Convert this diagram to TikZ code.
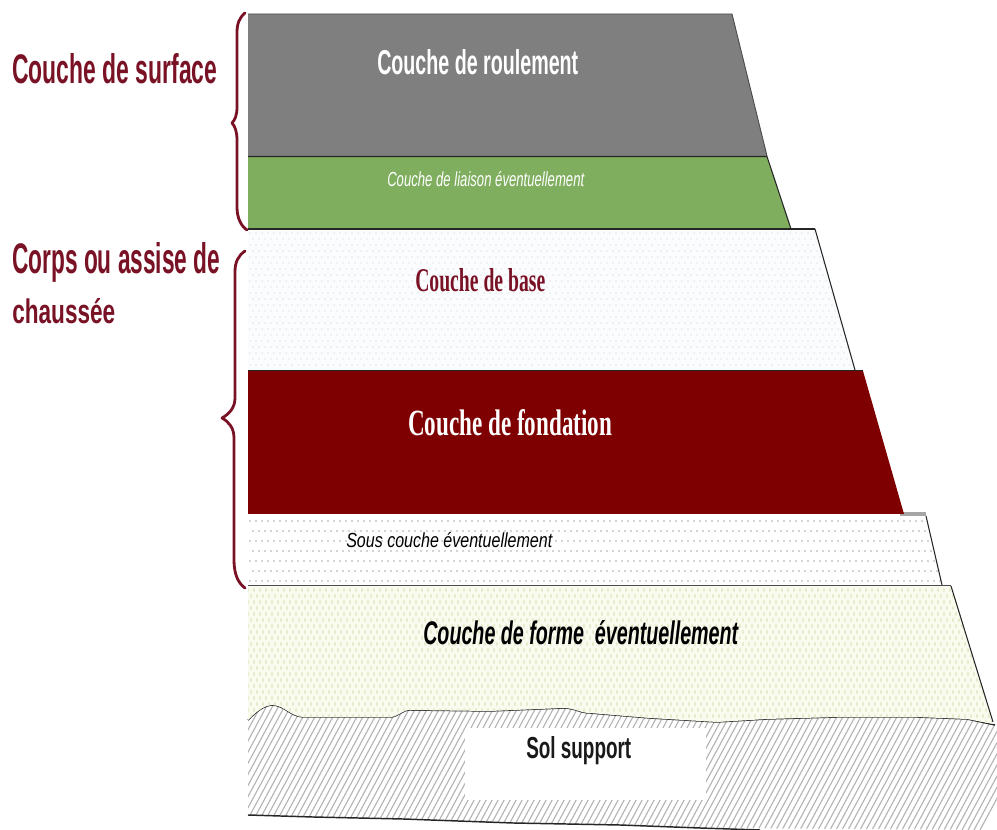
\documentclass[tikz,border=0pt]{standalone}
\usepackage{graphicx}
\usepackage{fontspec}
\setmainfont{Liberation Sans}
\newfontfamily\serifb{Liberation Serif}
\definecolor{braceRed}{HTML}{7A1226}
\definecolor{layerGray}{HTML}{7F7F7F}
\definecolor{layerGreen}{HTML}{7FAE5F}
\definecolor{layerRed}{HTML}{7F0000}
\definecolor{formeFill}{HTML}{FAFBEF}
\definecolor{formeDot}{HTML}{E6EACB}
\definecolor{baseFill}{HTML}{FBFCFD}
\definecolor{baseDot}{HTML}{E2E6EC}
\definecolor{hatchGray}{HTML}{B4B4B4}
\newcommand{\fitlabel}[3]{\resizebox{\dimexpr#1pt*3/4\relax}{\dimexpr#2pt*3/4\relax}{#3}}
\tikzset{
  lbl/.style={inner sep=0pt,anchor=base west},
  layeredge/.style={draw=black!85,line width=0.8pt},
  bracepath/.style={draw=braceRed,line width=2.1pt,line cap=round,line join=round},
  roughline/.style={draw=black!85,line width=1.1pt}
}
\begin{document}
\begin{tikzpicture}[x=0.75pt,y=-0.75pt]
\useasboundingbox (0,0) rectangle (997,830);
% sol support
\begin{scope}
\clip (248,720) .. controls (256,712) and (264,705) .. (273,705) .. controls (285,706) and (290,716) .. (303,717) -- (330,717) -- (390,717) .. controls (398,717) and (402,710) .. (410,710) -- (490,711) -- (563,708) .. controls (575,708) and (580,713) .. (590,713) -- (650,718) -- (717,722) -- (767,719) -- (837,717) -- (917,717) -- (967,719) -- (997,726) -- (997,830) -- (700,828) -- (620,825) -- (513,823) -- (403,819) -- (313,817) -- (248,815) -- cycle;
\foreach \i in {0,...,140} \draw[hatchGray,line width=0.85pt] ({140+6*\i},830) -- ({210+6*\i},700);
\end{scope}
\fill[white] (465,728) rectangle (706,800);
\draw[roughline] (248,720) .. controls (256,712) and (264,705) .. (273,705) .. controls (285,706) and (290,716) .. (303,717) -- (330,717) -- (390,717) .. controls (398,717) and (402,710) .. (410,710) -- (490,711) -- (563,708) .. controls (575,708) and (580,713) .. (590,713) -- (650,718) -- (717,722) -- (767,719) -- (837,717) -- (917,717) -- (967,719) -- (995,725);
\draw[roughline] (248,815) -- (313,817) -- (403,819) -- (513,823) -- (620,825) -- (700,828) -- (760,830);
% forme
\begin{scope}
\clip (248,586) -- (951,586) -- (993,724) -- (967,719) -- (917,717) -- (837,717) -- (767,719) -- (717,722) -- (650,718) -- (590,713) .. controls (580,713) and (575,708) .. (563,708) -- (490,711) -- (410,710) .. controls (402,710) and (398,717) .. (390,717) -- (330,717) -- (303,717) .. controls (290,716) and (285,706) .. (273,705) .. controls (264,705) and (256,712) .. (248,720) -- cycle;
\fill[formeFill] (248,586) rectangle (997,726);
\foreach \r in {0,...,23} {
  \pgfmathsetmacro{\yy}{590+6*\r}
  \pgfmathsetmacro{\off}{mod(\r,2)*3}
  \foreach \c in {0,...,124} \fill[formeDot] ({248+\off+6*\c},\yy) ellipse (0.9 and 2);
}
\end{scope}
\draw[layeredge] (951,586) -- (993,722);
% sous couche
\begin{scope}
\clip (248,516) -- (926,516) -- (942,585) -- (248,585) -- cycle;
\foreach \r in {0,...,6} {
  \pgfmathsetmacro{\yy}{521+10*\r}
  \pgfmathsetmacro{\off}{mod(\r,2)*3}
  \foreach \c in {0,...,116} \fill[black!40] ({250+\off+6*\c},\yy) ellipse (0.7 and 1.1);
}
\end{scope}
\draw[layeredge] (926,516) -- (942,585);
\draw[draw=black!70,line width=1.2pt] (248,585.5) -- (951,585.5);
\fill[black!35] (900,512.5) rectangle (926,516);
% base
\fill[baseFill] (248,229) -- (815,229) -- (855,370) -- (248,370) -- cycle;
\begin{scope}
\clip (248,229) -- (815,229) -- (855,370) -- (248,370) -- cycle;
\foreach \r in {0,...,22} {
  \pgfmathsetmacro{\yy}{233+6*\r}
  \pgfmathsetmacro{\off}{mod(\r,2)*3}
  \foreach \c in {0,...,100} \fill[baseDot] ({250+\off+6*\c},\yy) circle (0.8);
}
\end{scope}
\draw[layeredge] (815,229) -- (855,370);
% solid layers
\filldraw[fill=layerGray,draw=none] (248,14) -- (732,14) -- (767,156) -- (248,156) -- cycle;
\draw[draw=black!70,line width=0.7pt] (248,14) -- (732,14) -- (767,156);
\filldraw[fill=layerGreen,draw=none] (248,157) -- (767,157) -- (791,229) -- (248,229) -- cycle;
\draw[layeredge] (248,156.5) -- (767,156.5) -- (791,229);
\draw[layeredge] (248,229) -- (815,229);
\filldraw[fill=layerRed,draw=none] (248,371) -- (863,371) -- (904,514) -- (248,514) -- cycle;
\draw[layeredge] (248,370.5) -- (863,370.5);
% braces
\draw[bracepath] (245,13) .. controls (239,18) and (237,24) .. (237,33) -- (237,107) .. controls (237,115) and (235,120) .. (232,123) .. controls (235,126) and (237,132) .. (237,140) -- (237,207) .. controls (237,218) and (241,226) .. (247,230);
\draw[bracepath] (245,251) .. controls (238,256) and (235,262) .. (235,272) -- (235,398) .. controls (235,408) and (229,414) .. (222,418) .. controls (229,422) and (234,428) .. (234,438) -- (234,560) .. controls (234,574) and (238,583) .. (245,588);
% labels
\node[lbl,text=braceRed] (surface) at (12,84) {\fitlabel{205}{30}{\bfseries Couche de surface}};
\node[lbl,text=braceRed] (corps) at (12,274) {\fitlabel{208}{31}{\bfseries Corps ou assise de}};
\node[lbl,text=braceRed] (chaussee) at (12,324) {\fitlabel{103}{25}{\bfseries chaussée}};
\node[lbl,text=white] (roulement) at (377,75) {\fitlabel{201}{25}{\bfseries Couche de roulement}};
\node[lbl,text=white] (liaison) at (387,187) {\fitlabel{197}{15}{\itshape Couche de liaison éventuellement}};
\node[lbl,text=braceRed] (base) at (415,292) {\fitlabel{130}{23}{\serifb\bfseries Couche de base}};
\node[lbl,text=white] (fondation) at (408,436) {\fitlabel{204}{26}{\serifb\bfseries Couche de fondation}};
\node[lbl,text=black] (souscouche) at (346,548) {\fitlabel{206}{15}{\itshape Sous couche éventuellement}};
\node[lbl,text=black] (forme) at (423,644) {\fitlabel{315}{24}{\bfseries\itshape Couche de forme\ \ éventuellement}};
\node[lbl,text=black!90] (sol) at (526,758) {\fitlabel{105}{22}{\bfseries Sol support}};
\end{tikzpicture}
\end{document}
